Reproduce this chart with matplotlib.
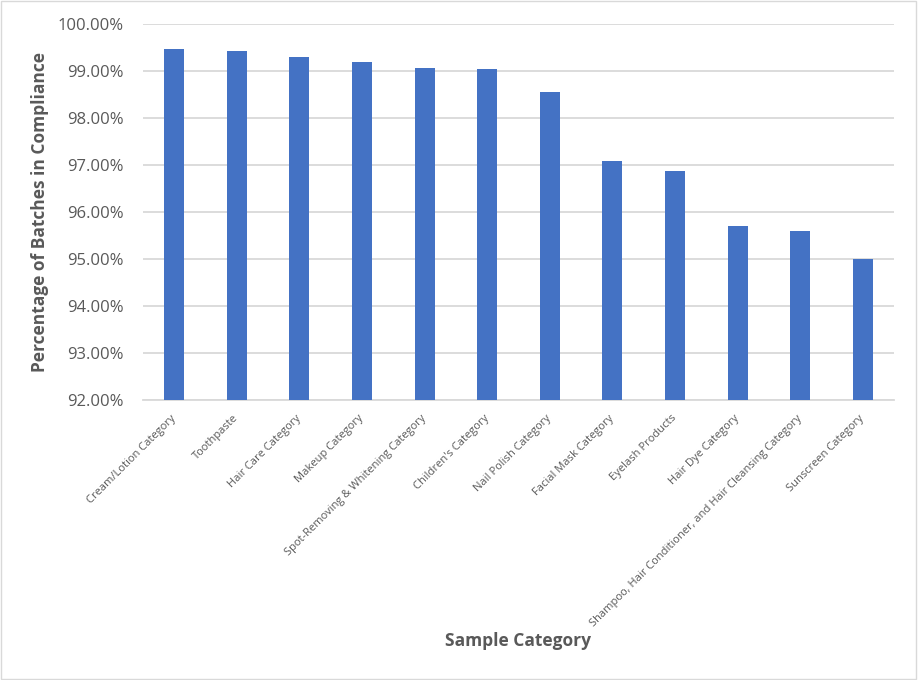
import matplotlib
matplotlib.use('Agg')
import matplotlib.pyplot as plt
from matplotlib.ticker import FuncFormatter, MultipleLocator

plt.rcParams['font.family'] = ['Open Sans', 'DejaVu Sans']

categories = ['Cream/Lotion Category', 'Toothpaste', 'Hair Care Category',
              'Makeup Category', 'Spot-Removing & Whitening Category',
              "Children's Category", 'Nail Polish Category', 'Facial Mask Category',
              'Eyelash Products', 'Hair Dye Category',
              'Shampoo, Hair Conditioner, and Hair Cleansing Category',
              'Sunscreen Category']
compliance = [99.47, 99.43, 99.30, 99.19, 99.06, 99.04, 98.55,
              97.08, 96.87, 95.70, 95.59, 95.00]

text_col = '#595959'
bar_col = '#4472C4'

fig = plt.figure(figsize=(9.18, 6.8), dpi=100)
ax = fig.add_axes([143/918, 1-400/680, 751/918, 376/680])

x = range(len(categories))
ax.bar(x, compliance, width=0.32, color=bar_col, zorder=3)

ax.set_ylim(92, 100)
ax.set_xlim(-0.5, len(categories) - 0.5)
ax.yaxis.set_major_locator(MultipleLocator(1))
ax.yaxis.set_major_formatter(FuncFormatter(lambda v, p: '{:.2f}%'.format(v)))
ax.grid(axis='y', color='#D9D9D9', linewidth=1.3, zorder=0)
for s in ['top', 'right', 'left']:
    ax.spines[s].set_visible(False)
ax.spines['bottom'].set_color('#D9D9D9')
ax.spines['bottom'].set_linewidth(1.3)
ax.tick_params(axis='both', length=0, colors=text_col)
ax.tick_params(axis='y', labelsize=12, pad=14)

ax.set_xticks(list(x))
ax.set_xticklabels(categories, rotation=45, ha='right', va='center',
                   rotation_mode='anchor', fontsize=8, color=text_col)
ax.tick_params(axis='x', pad=12)

ax.set_ylabel('Percentage of Batches in Compliance', fontsize=12.5,
              fontweight='bold', color=text_col, labelpad=6)
fig.text(518/918, 1-641/680, 'Sample Category', fontsize=12.5,
         fontweight='bold', color=text_col, ha='center', va='center')

border = plt.Rectangle((0.001, 0.001), 0.997, 0.997, transform=fig.transFigure,
                       fill=False, edgecolor='#D9D9D9', linewidth=1)
fig.patches.append(border)

fig.savefig('out.png', dpi=100)
